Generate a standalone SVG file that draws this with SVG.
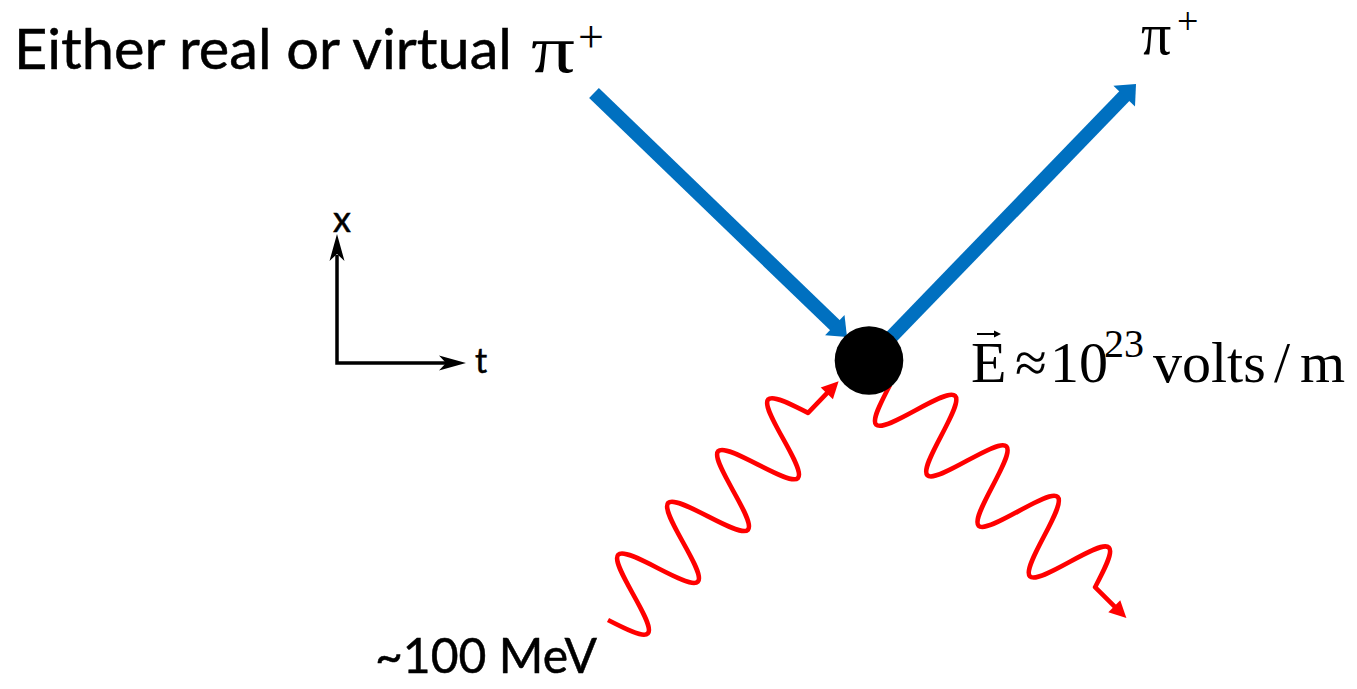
<svg xmlns="http://www.w3.org/2000/svg" xmlns:xlink="http://www.w3.org/1999/xlink" width="1357" height="689" viewBox="0 0 1357 689">
<style>
.comic{font-family:Lato,"DejaVu Sans","Liberation Sans",sans-serif;fill:#000;stroke:#000;stroke-width:0.5}
.serif{font-family:"Liberation Serif","Times New Roman",serif;fill:#000}
.blue{stroke:#0070C0;stroke-width:14;fill:none}
.bluehead{fill:#0070C0}
.wave{stroke:#FF0000;stroke-width:4.6;fill:none;stroke-linecap:butt;stroke-linejoin:round}
.redhead{fill:#FF0000}
.axis{stroke:#000;stroke-width:3.5;fill:none}
</style>
<defs>
<g id="photon">
<path class="wave" d="M0,0 C5.864,19.44 11.486,38 18,38 S30.136,19.44 36,0 S47.486,-38 54,-38 S66.136,-19.44 72,0 S83.486,38 90,38 S102.136,19.44 108,0 S119.486,-38 126,-38 S138.136,-19.44 144,0 S155.486,38 162,38 S174.136,19.44 180,0 S191.486,-38 198,-38 S210.136,-19.44 216,0 S227.486,38 234,38 S246.136,19.44 252,0 S263.486,-38 270,-38 S282.136,-19.44 288,0 L317,0"/>
<polygon class="redhead" points="332,0 315,-8.5 315,8.5"/>
</g>
</defs>

<g id="connectors">
<g id="pion-in">
<line class="blue" x1="594" y1="93" x2="835.5" y2="325.8"/>
<polygon class="bluehead" points="847,337 825.1,335.3 844.5,315.1"/>
</g>
<g id="pion-out">
<line class="blue" x1="869" y1="360" x2="1124.8" y2="95.6"/>
<polygon class="bluehead" points="1136,84 1135,106.6 1113.4,85.8"/>
</g>
<g id="photon-in">
<use xlink:href="#photon" href="#photon" transform="translate(608,620) rotate(-46)"/>
</g>
<g id="photon-out">
<use xlink:href="#photon" href="#photon" transform="translate(890,385) rotate(44.6)"/>
</g>
</g>

<g id="vertex">
<circle cx="869" cy="360.5" r="34.3" fill="#000"/>
</g>

<g id="axes">
<polyline class="axis" points="337,255 337,363 447,363"/>
<polygon points="337,234 344.5,261 337,254 329.5,261" fill="#000"/>
<polygon points="466,363 439,370.5 446,363 439,355.5" fill="#000"/>
<text class="comic" x="342" y="232" font-size="36" text-anchor="middle">x</text>
<text class="comic" x="481" y="373" font-size="34" text-anchor="middle">t</text>
</g>

<g id="label-in">
<text class="comic" x="14" y="69" font-size="56" textLength="498" lengthAdjust="spacingAndGlyphs">Either real or virtual</text>
<text class="serif" x="531" y="72" font-size="68" textLength="44" lengthAdjust="spacingAndGlyphs">π</text>
<text class="serif" x="578" y="52" font-size="46">+</text>
</g>

<g id="label-out">
<text class="serif" x="1141" y="54" font-size="60">π</text>
<text class="serif" x="1177" y="34" font-size="38">+</text>
</g>

<g id="label-field">
<text class="serif" x="971" y="382" font-size="58">E</text>
<line x1="977" y1="334" x2="996" y2="334" stroke="#000" stroke-width="2"/>
<polygon points="1001,334 994,330.5 994,337.5" fill="#000"/>
<text class="serif" x="1015" y="382" font-size="58">≈</text>
<text class="serif" x="1050" y="382" font-size="58">10</text>
<text class="serif" x="1104" y="357" font-size="40">23</text>
<text class="serif" x="1153" y="382" font-size="58">volts</text>
<text class="serif" x="1274" y="382" font-size="58">/</text>
<text class="serif" x="1300" y="382" font-size="58">m</text>
</g>

<g id="label-energy">
<text class="comic" x="375" y="673" font-size="49" textLength="222" lengthAdjust="spacingAndGlyphs">~100 MeV</text>
</g>
</svg>
